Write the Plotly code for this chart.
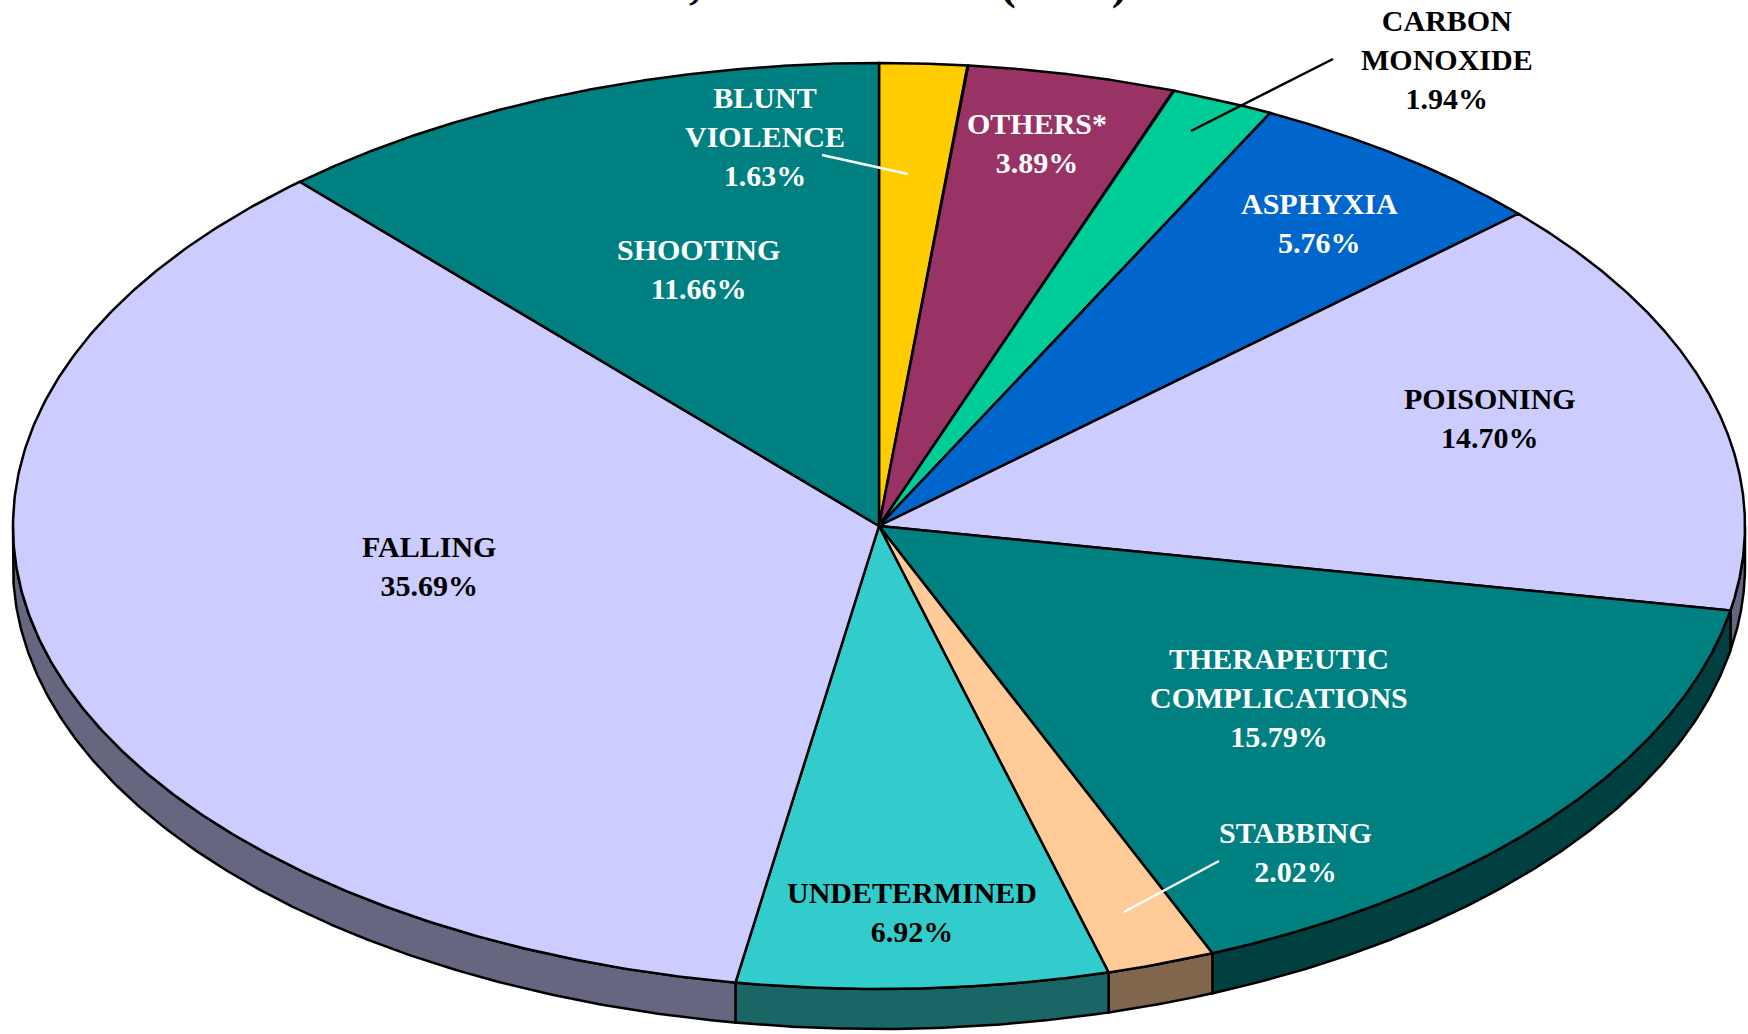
import numpy as np
import plotly.graph_objects as go

# ---- data ----
title_text = "1,286** CASES (2002)"
categories = ["BLUNT<br>VIOLENCE", "OTHERS*", "CARBON<br>MONOXIDE", "ASPHYXIA", "POISONING",
              "THERAPEUTIC<br>COMPLICATIONS", "STABBING", "UNDETERMINED", "FALLING", "SHOOTING"]
percentages = [1.63, 3.89, 1.94, 5.76, 14.70, 15.79, 2.02, 6.92, 35.69, 11.66]

# ---- styles ----
top_colors = ["#FFCC00", "#993366", "#00CC99", "#0066CC", "#CCCCFF",
              "#008080", "#FFCC99", "#33CCCC", "#CCCCFF", "#008080"]
side_colors = ["#806600", "#4C1933", "#00664C", "#003366", "#666680",
               "#004040", "#80664C", "#1A6666", "#666680", "#004040"]
label_colors = ["white", "white", "black", "white", "black",
                "white", "white", "black", "black", "white"]
label_pos = [(765, 136), (1037, 143), (1447, 59), (1319, 223), (1490, 418),
             (1279, 697), (1295, 852), (912, 912), (429, 566), (698, 269)]
leaders = [((822, 155), (908, 174), "white"),
           ((1333, 59), (1191, 131), "black"),
           ((1219, 861), (1124, 912), "white")]

W, H = 1748, 1034
CX, CY, RX, RY, DEPTH = 879, 526, 866, 463, 40
FONT = "Times New Roman, Liberation Serif, serif"

def pt(t, dy=0.0):
    return CX + RX * np.sin(t), CY - RY * np.cos(t) + dy

vals = np.array(percentages, dtype=float)
cum = np.concatenate([[0], np.cumsum(vals)]) / vals.sum() * 2 * np.pi

fig = go.Figure()

# side walls (front half only: pi/2 .. 3pi/2)
for i in range(len(vals)):
    a0, a1 = max(cum[i], np.pi / 2), min(cum[i + 1], 3 * np.pi / 2)
    if a1 <= a0:
        continue
    t = np.linspace(a0, a1, 200)
    xt, yt = pt(t)
    xb, yb = pt(t[::-1], DEPTH)
    xs = np.concatenate([xt, xb, xt[:1]])
    ys = np.concatenate([yt, yb, yt[:1]])
    fig.add_trace(go.Scatter(x=xs, y=ys, mode="lines", fill="toself",
                             fillcolor=side_colors[i],
                             line=dict(color="black", width=2.5),
                             hoverinfo="skip", showlegend=False))

# top faces
for i in range(len(vals)):
    t = np.linspace(cum[i], cum[i + 1], 300)
    xa, ya = pt(t)
    xs = np.concatenate([[CX], xa, [CX]])
    ys = np.concatenate([[CY], ya, [CY]])
    fig.add_trace(go.Scatter(x=xs, y=ys, mode="lines", fill="toself",
                             fillcolor=top_colors[i],
                             line=dict(color="black", width=2.5),
                             hoverinfo="skip", showlegend=False))

annotations = []
for i, (cat, p) in enumerate(zip(categories, percentages)):
    x, y = label_pos[i]
    annotations.append(dict(x=x, y=y, xref="x", yref="y",
                            text=f"<b>{cat}<br>{p:.2f}%</b>", showarrow=False,
                            font=dict(family=FONT, size=30, color=label_colors[i]),
                            xanchor="center", yanchor="middle", align="center"))

annotations.append(dict(x=896 / W, y=1, xref="paper", yref="paper", yanchor="bottom",
                        xanchor="center", yshift=-11, showarrow=False,
                        text=f"<b>{title_text}</b>",
                        font=dict(family=FONT, size=48, color="black")))

shapes = [dict(type="line", x0=a[0], y0=a[1], x1=b[0], y1=b[1], xref="x", yref="y",
               line=dict(color=c, width=2.5)) for a, b, c in leaders]

fig.update_layout(width=W, height=H, margin=dict(l=0, r=0, t=0, b=0),
                  paper_bgcolor="white", plot_bgcolor="white",
                  xaxis=dict(range=[0, W], visible=False, fixedrange=True),
                  yaxis=dict(range=[H, 0], visible=False, fixedrange=True),
                  annotations=annotations, shapes=shapes)

fig.write_html("out.html", config={"displayModeBar": False},
               post_script="document.body.style.margin='0px';")
